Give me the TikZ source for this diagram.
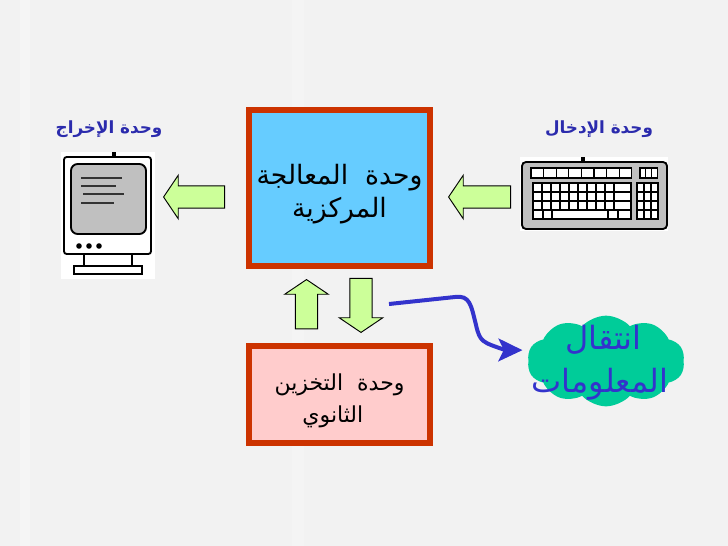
\documentclass[tikz,border=0pt]{standalone}
\usepackage{fontspec}
\usepackage{xcolor}
\TeXXeTstate=1
\newfontfamily\arabicfont[Script=Arabic]{DejaVu Sans}
\usetikzlibrary{arrows.meta, shapes.arrows, shapes.symbols, positioning}
\definecolor{boxred}{HTML}{CC3300}
\definecolor{cpublue}{HTML}{66CCFF}
\definecolor{storepink}{HTML}{FFCCCC}
\definecolor{arrowgreen}{HTML}{CCFF99}
\definecolor{wireblue}{HTML}{3333CC}
\definecolor{cloudgreen}{HTML}{00CC99}
\definecolor{backgray}{HTML}{F2F2F2}
\definecolor{keygray}{HTML}{C0C0C0}

\begin{document}
\begin{tikzpicture}[
    x=0.75pt, y=-0.75pt,
    unitbox/.style={draw=boxred, line width=4.4pt, minimum width=136pt, align=center, inner sep=0pt},
    flowarrow/.style={draw=black, fill=arrowgreen, single arrow, line width=0.7pt, inner sep=8pt, single arrow head extend=8pt, single arrow tip angle=112},
    unitlabel/.style={font=\arabicfont\bfseries\fontsize{12.6}{15}\selectfont, text=wireblue!85!black},
    gear/.style={draw=black, line width=1.4pt},
    key/.style={draw=black, fill=white, line width=1pt},
    arr/.style={-{Stealth[length=18pt, width=17pt, inset=4pt]}, wireblue, line width=3pt, line join=round}
  ]
  \useasboundingbox (0,0) rectangle (728,546);
  \fill[backgray] (0,0) rectangle (728,546);
  \fill[white, opacity=0.25] (20,0) rectangle (30,546);
  \fill[white, opacity=0.2] (292,0) rectangle (304,546);

  % Central units
  \node[unitbox, fill=cpublue, minimum height=117.5pt, font=\arabicfont\fontsize{20}{25}\selectfont] (cpu) at (339.5,188) {\rule{0pt}{24pt}\beginR وحدة\ \ المعالجة\endR\\\beginR المركزية\endR};
  \node[unitbox, fill=storepink, minimum height=73pt, font=\arabicfont\fontsize{16.5}{24}\selectfont] (store) at (339.5,394.5) {\rule{0pt}{22pt}\beginR وحدة\ \ التخزين\endR\\\beginR الثانوي\endR\hspace*{10pt}};

  % Block arrows
  \node[flowarrow, shape border rotate=180, anchor=tip, minimum height=45.75pt] (arrout) at (163,197) {};
  \node[flowarrow, shape border rotate=180, anchor=tip, minimum height=46.5pt] (arrin) at (448,197) {};
  \node[flowarrow, shape border rotate=90, anchor=tip, minimum height=37pt] (arrup) at (306.5,279) {};
  \node[flowarrow, shape border rotate=270, anchor=tip, minimum height=40.5pt] (arrdown) at (361,333) {};

  % Output unit
  \node[unitlabel] (outlabel) at (109,129) {\beginR وحدة الإخراج\endR};
  \fill[white] (61,152) rectangle (155,279);
  \fill[black] (112,152) rectangle (116,157);
  \draw[gear, fill=white, rounded corners=2pt] (64,157) rectangle (151,254);
  \draw[gear, fill=keygray, rounded corners=5pt] (71,164) rectangle (146,234);
  \foreach \xa/\xb/\ya in {81/122/178, 81/116/186, 83/124/194, 81/114/203} {
    \draw[line width=1.3pt, black!80] (\xa,\ya) -- (\xb,\ya);
  }
  \foreach \x in {79,89,99} {
    \fill[black] (\x,246) circle (2.8);
  }
  \draw[gear] (84,254) -- (84,266) (132,254) -- (132,266);
  \draw[gear, fill=white] (74,266) rectangle (142,274);

  % Input unit
  \node[unitlabel] (inlabel) at (599,129) {\beginR وحدة الإدخال\endR};
  \fill[white] (520,157) rectangle (668,231);
  \fill[black] (581,157) rectangle (585,163);
  \draw[gear, fill=keygray, rounded corners=3pt] (522,162) rectangle (667,229);
  \foreach \i in {0,...,7} {
    \draw[key] ({531+\i*12.6},168) rectangle ({531+(\i+1)*12.6},178);
  }
  \foreach \i in {0,1,2} {
    \draw[key] ({640+\i*5.8},168) rectangle ({640+(\i+1)*5.8},178);
  }
  \foreach \r in {0,1,2} {
    \foreach \i in {0,...,8} {
      \draw[key] ({533+\i*9},{183+\r*9}) rectangle ({533+(\i+1)*9},{183+(\r+1)*9});
    }
    \draw[key] (614,{183+\r*9}) rectangle (631,{183+(\r+1)*9});
  }
  \draw[key] (533,210) rectangle (543,219);
  \draw[key] (543,210) rectangle (552,219);
  \draw[key] (552,210) rectangle (608,219);
  \draw[key] (608,210) rectangle (618,219);
  \draw[key] (618,210) rectangle (631,219);
  \foreach \r in {0,1,2,3} {
    \foreach \i in {0,1,2} {
      \draw[key] ({637+\i*7},{183+\r*9}) rectangle ({637+(\i+1)*7},{183+(\r+1)*9});
    }
  }

  % Cloud and wire
  \node[cloud, cloud puffs=10, cloud puff arc=95, aspect=1.75, fill=cloudgreen, inner sep=0pt, minimum width=118pt, minimum height=68pt] (transfer) at (606,361) {};
  \node[align=center, text=wireblue, font=\arabicfont\fontsize{24}{32}\selectfont] (transfertext) at (600,363) {\hspace*{5pt}\beginR انتقال\endR\\\beginR المعلومات\endR};
  \coordinate (wirestart) at (389,304);
  \draw[arr, shorten >=5pt] (wirestart) -- (455,297) .. controls (470,295) and (471,305) .. (476,325) .. controls (480,342) and (482,342) .. (505,350) -- (transfer.172);
\end{tikzpicture}
\end{document}
